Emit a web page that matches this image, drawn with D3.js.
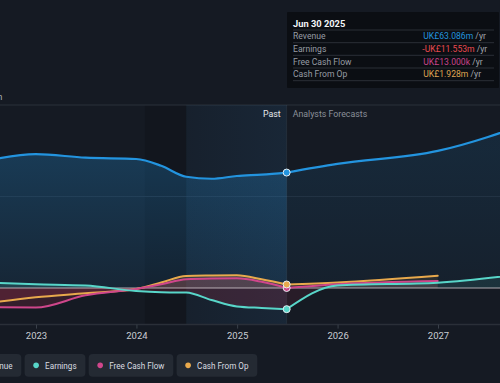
<!DOCTYPE html>
<html><head><meta charset="utf-8">
<script src="https://cdn.jsdelivr.net/npm/d3@7"></script>
<style>
body{margin:0;background:#151a23;}
svg{display:block;font-family:Roboto,"Open Sans",sans-serif;}
</style></head>
<body><svg id="c" width="500" height="383"></svg>
<script>
// ---- data (UK£ millions) ----
const pastDates = ["2022-06-30","2022-12-31","2023-06-30","2023-12-31","2024-03-31","2024-06-30","2024-09-30","2024-12-31","2025-03-31","2025-06-30"];
const revenuePast  = [69.5, 73.2, 71.2, 70.5, 66.8, 60.8, 59.7, 61.2, 62.0, 63.086];
const earningsPast = [3.0, 2.0, 1.3, -1.6, -2.3, -2.5, -6.6, -10.1, -10.9, -11.553];
const fcfPast      = [-10.5, -10.7, -4.0, -0.5, 2.0, 4.8, 5.2, 5.3, 3.4, 0.013];
const cfoPast      = [-8.5, -5.1, -2.9, -0.5, 3.0, 6.6, 6.8, 6.9, 4.8, 1.928];

const forecastDates = ["2025-06-30","2025-12-31","2026-12-31","2027-12-31"];
const revenueFc  = [63.086, 67.8, 74.9, 92.0];
const earningsFc = [-11.553, 1.4, 2.9, 8.7];
const fcfFc      = [0.013, 2.0, 3.8];
const cfoFc      = [1.928, 3.0, 6.7];

const yTicks = [100, 50, 0, -20];
const yTickLabels = ["UK£100m", "UK£50m", "UK£0", "-UK£20m"];
const xTickYears = [2023, 2024, 2025, 2026, 2027];

const tooltipTitle = "Jun 30 2025";
const tooltipRows = [
  {label:"Revenue", value:"UK£63.086m", color:"#2394df"},
  {label:"Earnings", value:"-UK£11.553m", color:"#ea4a4f"},
  {label:"Free Cash Flow", value:"UK£13.000k", color:"#c9438a"},
  {label:"Cash From Op", value:"UK£1.928m", color:"#dfa552"}
];
const legendItems = [
  {name:"Revenue", color:"#2394df"},
  {name:"Earnings", color:"#58d6c9"},
  {name:"Free Cash Flow", color:"#cf468b"},
  {name:"Cash From Op", color:"#e8a94c"}
];

// ---- setup ----
const svg = d3.select("#c");
const parse = d3.timeParse("%Y-%m-%d");
const x = d3.scaleTime().domain([new Date(2023,0,1), new Date(2027,0,1)]).range([36, 438]);
const y = d3.scaleLinear().domain([-20, 100]).range([324.6, 105]);
const W = 500;

const COL = {rev:"#2394df", earn:"#58d6c9", fcf:"#cf468b", cfo:"#e8a94c"};

const defs = svg.append("defs");
const gRev = defs.append("linearGradient").attr("id","gRev")
  .attr("gradientUnits","userSpaceOnUse").attr("x1",0).attr("x2",0).attr("y1",y(75)).attr("y2",y(0));
gRev.append("stop").attr("offset",0).attr("stop-color",COL.rev).attr("stop-opacity",0.27);
gRev.append("stop").attr("offset",1).attr("stop-color",COL.rev).attr("stop-opacity",0.1);
const gRevF = defs.append("linearGradient").attr("id","gRevF")
  .attr("gradientUnits","userSpaceOnUse").attr("x1",0).attr("x2",0).attr("y1",y(75)).attr("y2",y(0));
gRevF.append("stop").attr("offset",0).attr("stop-color",COL.rev).attr("stop-opacity",0.12);
gRevF.append("stop").attr("offset",1).attr("stop-color",COL.rev).attr("stop-opacity",0.05);
const gBand = defs.append("linearGradient").attr("id","gBand").attr("x1",0).attr("x2",1).attr("y1",0).attr("y2",0);
gBand.append("stop").attr("offset",0).attr("stop-color","#3a9ae8").attr("stop-opacity",0.05);
gBand.append("stop").attr("offset",1).attr("stop-color","#3a9ae8").attr("stop-opacity",0.1);

defs.append("clipPath").attr("id","above").append("rect").attr("x",0).attr("y",0).attr("width",W).attr("height",y(0));
defs.append("clipPath").attr("id","below").append("rect").attr("x",0).attr("y",y(0)).attr("width",W).attr("height",383-y(0));

function pts(dates, vals){ return vals.map((v,i)=>({d:parse(dates[i]), v})); }
const line = d3.line().x(p=>x(p.d)).y(p=>y(p.v)).curve(d3.curveMonotoneX);
const area = d3.area().x(p=>x(p.d)).y0(y(0)).y1(p=>y(p.v)).curve(d3.curveMonotoneX);

const nowX = x(parse("2025-06-30"));

// dark band
svg.append("rect").attr("x", x(parse("2024-02-01"))).attr("y", y(100))
  .attr("width", x(parse("2024-06-30")) - x(parse("2024-02-01"))).attr("height", y(-20)-y(100))
  .attr("fill","#0c1016").attr("opacity",0.32);

// gridlines
svg.append("line").attr("x1",0).attr("x2",W).attr("y1",y(100)).attr("y2",y(100)).attr("stroke","#2b313b").attr("stroke-width",1);
svg.append("line").attr("x1",0).attr("x2",W).attr("y1",y(50)).attr("y2",y(50)).attr("stroke","#222833").attr("stroke-width",1);

// revenue areas
const revP = pts(pastDates, revenuePast), revF = pts(forecastDates, revenueFc);
svg.append("path").attr("d", area(revP)).attr("fill","url(#gRev)");
svg.append("path").attr("d", area(revF)).attr("fill","url(#gRevF)");

// highlight band (past year)
svg.append("rect").attr("x", x(parse("2024-06-30"))).attr("y", y(100))
  .attr("width", nowX - x(parse("2024-06-30"))).attr("height", y(-20)-y(100))
  .attr("fill","url(#gBand)");
svg.append("line").attr("x1",nowX).attr("x2",nowX).attr("y1",y(100)).attr("y2",y(-20))
  .attr("stroke","#ffffff").attr("stroke-opacity",0.06);

// small series fills
const small = [
  {p:pts(pastDates,cfoPast), f:pts(forecastDates.slice(0,3),cfoFc), c:COL.cfo},
  {p:pts(pastDates,fcfPast), f:pts(forecastDates.slice(0,3),fcfFc), c:COL.fcf},
  {p:pts(pastDates,earningsPast), f:pts(forecastDates,earningsFc), c:COL.earn}
];
small.forEach(s=>{
  [s.p, s.f].forEach((arr,k)=>{
    svg.append("path").attr("d",area(arr)).attr("fill",s.c).attr("opacity",k===0?0.16:0.1).attr("clip-path","url(#above)");
    svg.append("path").attr("d",area(arr)).attr("fill","#b8344f").attr("opacity",k===0?0.2:0.12).attr("clip-path","url(#below)");
  });
});

// zero line
svg.append("line").attr("x1",0).attr("x2",W).attr("y1",y(0)).attr("y2",y(0)).attr("stroke","#d6cdd2").attr("stroke-opacity",0.8).attr("stroke-width",1);

// lines
function drawLine(arr,c,w){ svg.append("path").attr("d",line(arr)).attr("fill","none").attr("stroke",c).attr("stroke-width",w).attr("stroke-linecap","round"); }
small.forEach(s=>{ drawLine(s.p,s.c,2); drawLine(s.f,s.c,2); });
drawLine(revP, COL.rev, 2.2); drawLine(revF, COL.rev, 2.2);

// markers at now
[[earningsPast, COL.earn],[fcfPast, COL.fcf],[cfoPast, COL.cfo],[revenuePast, COL.rev]].forEach(([arr,c])=>{
  svg.append("circle").attr("cx",nowX).attr("cy",y(arr[arr.length-1])).attr("r",3.5)
    .attr("fill",c).attr("stroke","#e8eef2").attr("stroke-width",1);
});

// bottom axis
svg.append("line").attr("x1",0).attr("x2",W).attr("y1",y(-20)).attr("y2",y(-20)).attr("stroke","#2a2f38").attr("stroke-width",1.5);
const ax = svg.append("g").attr("transform",`translate(0,${y(-20)})`)
  .call(d3.axisBottom(x).tickValues(xTickYears.map(yr=>new Date(yr,0,1))).tickFormat(d3.timeFormat("%Y")).tickSize(4).tickPadding(4));
ax.select(".domain").remove();
ax.selectAll(".tick line").attr("stroke","#3a404a");
ax.selectAll(".tick text").attr("fill","#c9cdd3").attr("font-size",9.5).attr("font-family","Roboto,'Open Sans',sans-serif");

// y labels (left aligned at a common start, mostly beyond the left edge like the reference)
const yl = svg.append("g");
yTicks.forEach((t,i)=>{
  yl.append("text").text(yTickLabels[i]).attr("font-size",9).attr("fill","#a9aeb6")
    .attr("x",0).attr("y", y(t)-5);
});
const lens = yl.selectAll("text").nodes().map(n=>n.getComputedTextLength());
const startX = 2.5 - d3.max(lens);
yl.selectAll("text").attr("x", startX);

// Past / Forecast labels
svg.append("text").attr("x", nowX-6).attr("y", y(100)+12).attr("text-anchor","end")
  .attr("font-size",8.8).attr("fill","#e6e8eb").text("Past");
svg.append("text").attr("x", nowX+6).attr("y", y(100)+12)
  .attr("font-size",8.8).attr("fill","#8a9099").text("Analysts Forecasts");

// tooltip
const tt = svg.append("g");
tt.append("rect").attr("x",287).attr("y",12).attr("width",212).attr("height",76).attr("fill","#0b0e13").attr("rx",1);
tt.append("text").attr("x",293).attr("y",26.8).attr("font-size",9.3).attr("font-weight","bold").attr("fill","#f2f4f6").text(tooltipTitle);
const sepY = [30, 42.7, 55.3, 68, 80.7];
sepY.forEach(sy=>tt.append("line").attr("x1",293).attr("x2",494).attr("y1",sy).attr("y2",sy).attr("stroke","#2a2f37").attr("stroke-width",1));
tooltipRows.forEach((r,i)=>{
  const cy = 36.3 + i*12.7;
  tt.append("text").attr("x",293).attr("y",cy+3).attr("font-size",8.6).attr("fill","#979ca4").text(r.label);
  const t = tt.append("text").attr("x", r.value.startsWith("-")?422.3:423.3).attr("y",cy+3).attr("font-size",8.6);
  t.append("tspan").attr("fill",r.color).text(r.value);
  t.append("tspan").attr("fill","#a2a7ae").text(" /yr");
});

// legend
const lg = svg.append("g");
const pillH = 22.7, pillY = 354;
const legendFS = 9.4;
const probe = lg.append("text").attr("font-size",legendFS).text("Free Cash Flow");
const squeeze = 55.3 / probe.node().getComputedTextLength();
probe.remove();
const items = legendItems.map(it=>{
  const g = lg.append("g");
  const rect = g.append("rect").attr("y",pillY).attr("height",pillH).attr("rx",4).attr("fill","#242a33");
  const dot = g.append("circle").attr("cy",pillY+pillH/2).attr("r",2.8).attr("fill",it.color);
  const txt = g.append("text").attr("y",pillY+pillH/2+3.3).attr("font-size",legendFS).attr("fill","#d9dce0").text(it.name);
  const tl = txt.node().getComputedTextLength() * squeeze;
  txt.attr("textLength", tl).attr("lengthAdjust","spacingAndGlyphs");
  const w = 20.5 + tl + 8.8;
  return {g,rect,dot,txt,w};
});
let px = 21.3 - items[0].w;
items.forEach((it,i)=>{
  it.rect.attr("x",px).attr("width",it.w);
  it.dot.attr("cx",px+11.5);
  it.txt.attr("x",px+20.5);
  px += it.w + 3.3;
});
</script>
</body></html>
